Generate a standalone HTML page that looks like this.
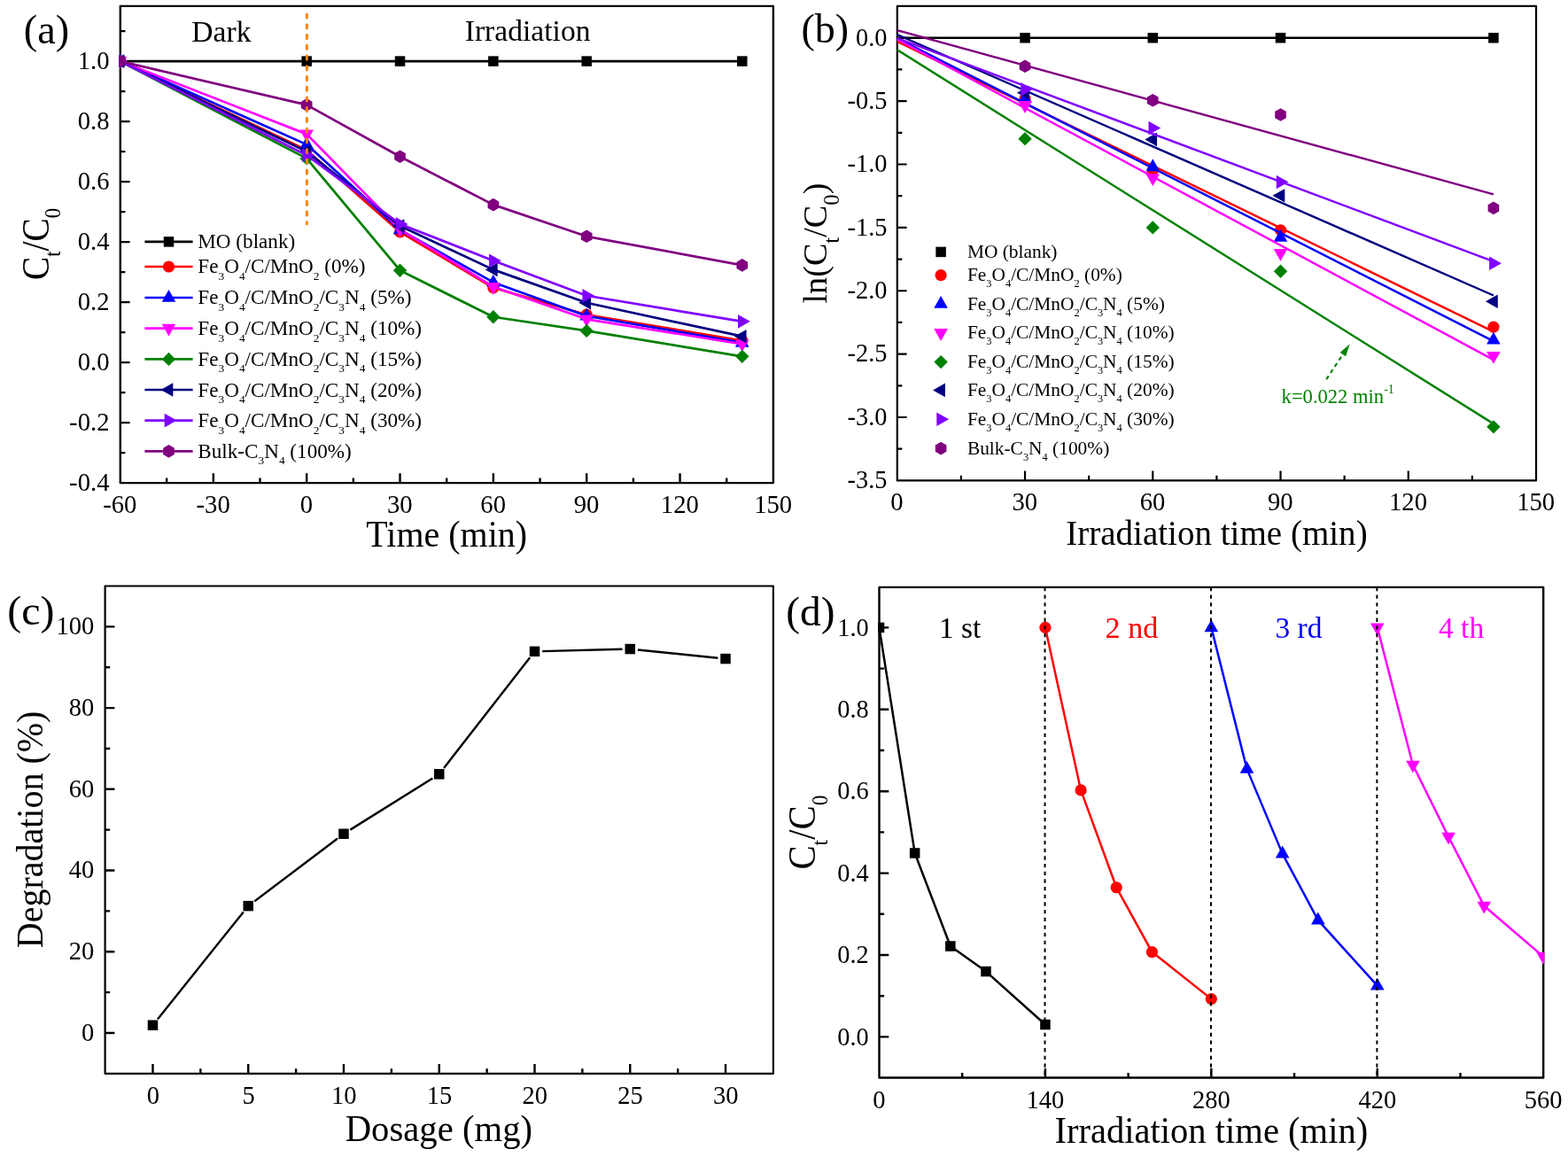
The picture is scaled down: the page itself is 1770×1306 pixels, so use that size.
<!DOCTYPE html>
<html lang="en"><head><meta charset="utf-8"><title>Photocatalytic degradation figure</title>
<style>html,body{margin:0;padding:0;background:#fff}body{width:1770px;height:1306px;overflow:hidden}svg{display:block}text{font-family:"Liberation Serif","Times New Roman",serif;fill:#000}</style>
</head><body>
<svg width="1770" height="1306" viewBox="0 0 1770 1306" role="img" aria-label="Photocatalytic degradation of MO: kinetics, dosage and recycling">
<rect width="1770" height="1306" fill="#fff"/>
<defs>
<clipPath id="clipa"><rect x="134.5" y="5.6" width="739.7" height="540.8"/></clipPath>
<clipPath id="clipb"><rect x="1011.5" y="5.6" width="723.8" height="538.1"/></clipPath>
<clipPath id="clipc"><rect x="117.3" y="660.2" width="756.9" height="552.9"/></clipPath>
<clipPath id="clipd"><rect x="991.2" y="661.6" width="752.3" height="556.2"/></clipPath>
</defs>
<g id="panel-a">
<g font-size="23.15">
<path d="M163.4 272.9H217.6" stroke="#000000" stroke-width="2.7" fill="none"/>
<rect x="184.75" y="267.15" width="11.5" height="11.5" fill="#000000"/>
<text x="223.3" y="280.2">MO (blank)</text>
<path d="M163.4 301H217.6" stroke="#ff0000" stroke-width="2.7" fill="none"/>
<circle cx="190.5" cy="301" r="6.6" fill="#ff0000"/>
<text x="223.3" y="308.2">Fe<tspan font-size="13.4" dy="7.5">3</tspan><tspan dy="-7.5">O</tspan><tspan font-size="13.4" dy="7.5">4</tspan><tspan dy="-7.5">/C/MnO</tspan><tspan font-size="13.4" dy="7.5">2</tspan><tspan dy="-7.5"> (0%)</tspan></text>
<path d="M163.4 336H217.6" stroke="#0000ff" stroke-width="2.7" fill="none"/>
<polygon points="190.5,327 198.3,340.8 182.7,340.8" fill="#0000ff"/>
<text x="223.3" y="343.4">Fe<tspan font-size="13.4" dy="7.5">3</tspan><tspan dy="-7.5">O</tspan><tspan font-size="13.4" dy="7.5">4</tspan><tspan dy="-7.5">/C/MnO</tspan><tspan font-size="13.4" dy="7.5">2</tspan><tspan dy="-7.5">/C</tspan><tspan font-size="13.4" dy="7.5">3</tspan><tspan dy="-7.5">N</tspan><tspan font-size="13.4" dy="7.5">4</tspan><tspan dy="-7.5"> (5%)</tspan></text>
<path d="M163.4 370.6H217.6" stroke="#ff00ff" stroke-width="2.7" fill="none"/>
<polygon points="190.5,379.6 198.3,365.8 182.7,365.8" fill="#ff00ff"/>
<text x="223.3" y="378.1">Fe<tspan font-size="13.4" dy="7.5">3</tspan><tspan dy="-7.5">O</tspan><tspan font-size="13.4" dy="7.5">4</tspan><tspan dy="-7.5">/C/MnO</tspan><tspan font-size="13.4" dy="7.5">2</tspan><tspan dy="-7.5">/C</tspan><tspan font-size="13.4" dy="7.5">3</tspan><tspan dy="-7.5">N</tspan><tspan font-size="13.4" dy="7.5">4</tspan><tspan dy="-7.5"> (10%)</tspan></text>
<path d="M163.4 405.4H217.6" stroke="#008000" stroke-width="2.7" fill="none"/>
<polygon points="190.5,397.7 198.2,405.4 190.5,413.1 182.8,405.4" fill="#008000"/>
<text x="223.3" y="412.9">Fe<tspan font-size="13.4" dy="7.5">3</tspan><tspan dy="-7.5">O</tspan><tspan font-size="13.4" dy="7.5">4</tspan><tspan dy="-7.5">/C/MnO</tspan><tspan font-size="13.4" dy="7.5">2</tspan><tspan dy="-7.5">/C</tspan><tspan font-size="13.4" dy="7.5">3</tspan><tspan dy="-7.5">N</tspan><tspan font-size="13.4" dy="7.5">4</tspan><tspan dy="-7.5"> (15%)</tspan></text>
<path d="M163.4 440H217.6" stroke="#000080" stroke-width="2.7" fill="none"/>
<polygon points="181.5,440 195.3,432.2 195.3,447.8" fill="#000080"/>
<text x="223.3" y="447.5">Fe<tspan font-size="13.4" dy="7.5">3</tspan><tspan dy="-7.5">O</tspan><tspan font-size="13.4" dy="7.5">4</tspan><tspan dy="-7.5">/C/MnO</tspan><tspan font-size="13.4" dy="7.5">2</tspan><tspan dy="-7.5">/C</tspan><tspan font-size="13.4" dy="7.5">3</tspan><tspan dy="-7.5">N</tspan><tspan font-size="13.4" dy="7.5">4</tspan><tspan dy="-7.5"> (20%)</tspan></text>
<path d="M163.4 474.6H217.6" stroke="#8000ff" stroke-width="2.7" fill="none"/>
<polygon points="199.5,474.6 185.7,466.8 185.7,482.4" fill="#8000ff"/>
<text x="223.3" y="482.1">Fe<tspan font-size="13.4" dy="7.5">3</tspan><tspan dy="-7.5">O</tspan><tspan font-size="13.4" dy="7.5">4</tspan><tspan dy="-7.5">/C/MnO</tspan><tspan font-size="13.4" dy="7.5">2</tspan><tspan dy="-7.5">/C</tspan><tspan font-size="13.4" dy="7.5">3</tspan><tspan dy="-7.5">N</tspan><tspan font-size="13.4" dy="7.5">4</tspan><tspan dy="-7.5"> (30%)</tspan></text>
<path d="M163.4 509.4H217.6" stroke="#800080" stroke-width="2.7" fill="none"/>
<polygon points="190.5,502.1 196.82,505.75 196.82,513.05 190.5,516.7 184.18,513.05 184.18,505.75" fill="#800080"/>
<text x="223.3" y="516.9">Bulk-C<tspan font-size="13.4" dy="7.5">3</tspan><tspan dy="-7.5">N</tspan><tspan font-size="13.4" dy="7.5">4</tspan><tspan dy="-7.5"> (100%)</tspan></text>
</g>
<rect x="135.8" y="6.9" width="737.1" height="538.2" fill="none" stroke="#000" stroke-width="2.4" stroke-linejoin="round"/>
<path d="M240.84 545.1V534.3M346.19 545.1V534.3M451.53 545.1V534.3M556.87 545.1V534.3M662.21 545.1V534.3M767.56 545.1V534.3M188.17 545.1V539.5M293.51 545.1V539.5M398.86 545.1V539.5M504.2 545.1V539.5M609.54 545.1V539.5M714.89 545.1V539.5M820.23 545.1V539.5M135.8 477.1H146.6M135.8 409.1H146.6M135.8 341.1H146.6M135.8 273.1H146.6M135.8 205.1H146.6M135.8 137.1H146.6M135.8 69.1H146.6M135.8 511.1H141.4M135.8 443.1H141.4M135.8 375.1H141.4M135.8 307.1H141.4M135.8 239.1H141.4M135.8 171.1H141.4M135.8 103.1H141.4M135.8 35.1H141.4" fill="none" stroke="#000" stroke-width="2.4"/>
<g clip-path="url(#clipa)">
<polyline points="135.5,69.1 346.19,69.1 451.53,69.1 556.87,69.1 662.21,69.1 837.79,69.1" fill="none" stroke="#000000" stroke-width="2.7" stroke-linejoin="round"/>
<rect x="129.75" y="63.35" width="11.5" height="11.5" fill="#000000"/>
<rect x="340.44" y="63.35" width="11.5" height="11.5" fill="#000000"/>
<rect x="445.78" y="63.35" width="11.5" height="11.5" fill="#000000"/>
<rect x="551.12" y="63.35" width="11.5" height="11.5" fill="#000000"/>
<rect x="656.46" y="63.35" width="11.5" height="11.5" fill="#000000"/>
<rect x="832.04" y="63.35" width="11.5" height="11.5" fill="#000000"/>
<polyline points="135.5,69.1 346.19,169.4 451.53,261.88 556.87,324.78 662.21,355.21 837.79,384.48" fill="none" stroke="#ff0000" stroke-width="2.7" stroke-linejoin="round"/>
<circle cx="135.5" cy="69.1" r="6.6" fill="#ff0000"/>
<circle cx="346.19" cy="169.4" r="6.6" fill="#ff0000"/>
<circle cx="451.53" cy="261.88" r="6.6" fill="#ff0000"/>
<circle cx="556.87" cy="324.78" r="6.6" fill="#ff0000"/>
<circle cx="662.21" cy="355.21" r="6.6" fill="#ff0000"/>
<circle cx="837.79" cy="384.48" r="6.6" fill="#ff0000"/>
<polyline points="135.5,69.1 346.19,163.11 451.53,259.5 556.87,318.66 662.21,356.74 837.79,386.86" fill="none" stroke="#0000ff" stroke-width="2.7" stroke-linejoin="round"/>
<polygon points="135.5,60.1 143.3,73.9 127.7,73.9" fill="#0000ff"/>
<polygon points="346.19,154.11 353.99,167.91 338.39,167.91" fill="#0000ff"/>
<polygon points="451.53,250.5 459.33,264.3 443.73,264.3" fill="#0000ff"/>
<polygon points="556.87,309.66 564.67,323.46 549.07,323.46" fill="#0000ff"/>
<polygon points="662.21,347.74 670.01,361.54 654.41,361.54" fill="#0000ff"/>
<polygon points="837.79,377.86 845.59,391.66 829.99,391.66" fill="#0000ff"/>
<polyline points="135.5,69.1 346.19,151.38 451.53,258.82 556.87,323.76 662.21,360.31 837.79,388.36" fill="none" stroke="#ff00ff" stroke-width="2.7" stroke-linejoin="round"/>
<polygon points="135.5,78.1 143.3,64.3 127.7,64.3" fill="#ff00ff"/>
<polygon points="346.19,160.38 353.99,146.58 338.39,146.58" fill="#ff00ff"/>
<polygon points="451.53,267.82 459.33,254.02 443.73,254.02" fill="#ff00ff"/>
<polygon points="556.87,332.76 564.67,318.96 549.07,318.96" fill="#ff00ff"/>
<polygon points="662.21,369.31 670.01,355.51 654.41,355.51" fill="#ff00ff"/>
<polygon points="837.79,397.36 845.59,383.56 829.99,383.56" fill="#ff00ff"/>
<polyline points="135.5,69.1 346.19,178.92 451.53,305.2 556.87,357.76 662.21,373.4 837.79,402.37" fill="none" stroke="#008000" stroke-width="2.7" stroke-linejoin="round"/>
<polygon points="135.5,61.4 143.2,69.1 135.5,76.8 127.8,69.1" fill="#008000"/>
<polygon points="346.19,171.22 353.89,178.92 346.19,186.62 338.49,178.92" fill="#008000"/>
<polygon points="451.53,297.5 459.23,305.2 451.53,312.9 443.83,305.2" fill="#008000"/>
<polygon points="556.87,350.06 564.57,357.76 556.87,365.46 549.17,357.76" fill="#008000"/>
<polygon points="662.21,365.7 669.91,373.4 662.21,381.1 654.51,373.4" fill="#008000"/>
<polygon points="837.79,394.67 845.49,402.37 837.79,410.07 830.09,402.37" fill="#008000"/>
<polyline points="135.5,69.1 346.19,171.1 451.53,255.08 556.87,304.38 662.21,341.78 837.79,379.69" fill="none" stroke="#000080" stroke-width="2.7" stroke-linejoin="round"/>
<polygon points="126.5,69.1 140.3,61.3 140.3,76.9" fill="#000080"/>
<polygon points="337.19,171.1 350.99,163.3 350.99,178.9" fill="#000080"/>
<polygon points="442.53,255.08 456.33,247.28 456.33,262.88" fill="#000080"/>
<polygon points="547.87,304.38 561.67,296.58 561.67,312.18" fill="#000080"/>
<polygon points="653.21,341.78 667.01,333.98 667.01,349.58" fill="#000080"/>
<polygon points="828.79,379.69 842.59,371.89 842.59,387.49" fill="#000080"/>
<polyline points="135.5,69.1 346.19,175.18 451.53,252.9 556.87,294.18 662.21,333.79 837.79,362.86" fill="none" stroke="#8000ff" stroke-width="2.7" stroke-linejoin="round"/>
<polygon points="144.5,69.1 130.7,61.3 130.7,76.9" fill="#8000ff"/>
<polygon points="355.19,175.18 341.39,167.38 341.39,182.98" fill="#8000ff"/>
<polygon points="460.53,252.9 446.73,245.1 446.73,260.7" fill="#8000ff"/>
<polygon points="565.87,294.18 552.07,286.38 552.07,301.98" fill="#8000ff"/>
<polygon points="671.21,333.79 657.41,325.99 657.41,341.59" fill="#8000ff"/>
<polygon points="846.79,362.86 832.99,355.06 832.99,370.66" fill="#8000ff"/>
<polyline points="135.5,69.1 346.19,118.4 451.53,176.71 556.87,231.11 662.21,266.81 837.79,299.42" fill="none" stroke="#800080" stroke-width="2.7" stroke-linejoin="round"/>
<polygon points="135.5,61.8 141.82,65.45 141.82,72.75 135.5,76.4 129.18,72.75 129.18,65.45" fill="#800080"/>
<polygon points="346.19,111.1 352.51,114.75 352.51,122.05 346.19,125.7 339.86,122.05 339.86,114.75" fill="#800080"/>
<polygon points="451.53,169.41 457.85,173.06 457.85,180.36 451.53,184.01 445.21,180.36 445.21,173.06" fill="#800080"/>
<polygon points="556.87,223.81 563.19,227.46 563.19,234.76 556.87,238.41 550.55,234.76 550.55,227.46" fill="#800080"/>
<polygon points="662.21,259.51 668.54,263.16 668.54,270.46 662.21,274.11 655.89,270.46 655.89,263.16" fill="#800080"/>
<polygon points="837.79,292.12 844.11,295.77 844.11,303.07 837.79,306.72 831.46,303.07 831.46,295.77" fill="#800080"/>
</g>
<path d="M346.39 16.1V253" stroke="#ff8000" stroke-width="2.9" stroke-dasharray="4.2 7.53" stroke-linecap="round" fill="none"/>
<text transform="translate(135.3 578.9) scale(0.95 1)" font-size="30.2" text-anchor="middle">-60</text>
<text transform="translate(240.64 578.9) scale(0.95 1)" font-size="30.2" text-anchor="middle">-30</text>
<text transform="translate(345.99 578.9) scale(0.95 1)" font-size="30.2" text-anchor="middle">0</text>
<text transform="translate(451.33 578.9) scale(0.95 1)" font-size="30.2" text-anchor="middle">30</text>
<text transform="translate(556.67 578.9) scale(0.95 1)" font-size="30.2" text-anchor="middle">60</text>
<text transform="translate(662.01 578.9) scale(0.95 1)" font-size="30.2" text-anchor="middle">90</text>
<text transform="translate(767.36 578.9) scale(0.95 1)" font-size="30.2" text-anchor="middle">120</text>
<text transform="translate(872.7 578.9) scale(0.95 1)" font-size="30.2" text-anchor="middle">150</text>
<text transform="translate(123.5 553.8) scale(0.95 1)" font-size="30.2" text-anchor="end">-0.4</text>
<text transform="translate(123.5 485.8) scale(0.95 1)" font-size="30.2" text-anchor="end">-0.2</text>
<text transform="translate(123.5 417.8) scale(0.95 1)" font-size="30.2" text-anchor="end">0.0</text>
<text transform="translate(123.5 349.8) scale(0.95 1)" font-size="30.2" text-anchor="end">0.2</text>
<text transform="translate(123.5 281.8) scale(0.95 1)" font-size="30.2" text-anchor="end">0.4</text>
<text transform="translate(123.5 213.8) scale(0.95 1)" font-size="30.2" text-anchor="end">0.6</text>
<text transform="translate(123.5 145.8) scale(0.95 1)" font-size="30.2" text-anchor="end">0.8</text>
<text transform="translate(123.5 77.8) scale(0.95 1)" font-size="30.2" text-anchor="end">1.0</text>
<text transform="translate(26.8 48.5) scale(1.02 1)" font-size="45.4">(a)</text>
<text transform="translate(216.3 47) scale(0.974 1)" font-size="34.5">Dark</text>
<text transform="translate(524.7 46.1) scale(0.974 1)" font-size="34.5">Irradiation</text>
<text transform="translate(504.2 617.2) scale(0.968 1)" font-size="41.3" text-anchor="middle">Time (min)</text>
<text transform="translate(54.6 275.5) rotate(-90) scale(0.885 1)" font-size="44.5" text-anchor="middle">C<tspan font-size="25.5" dy="13.7">t</tspan><tspan dy="-13.7">/C</tspan><tspan font-size="25.5" dy="13.7">0</tspan></text>
</g>
<g id="panel-b">
<g font-size="21.4">
<rect x="1056.35" y="278.65" width="11.5" height="11.5" fill="#000000"/>
<text x="1091.9" y="291.2">MO (blank)</text>
<circle cx="1062.1" cy="310.7" r="6.6" fill="#ff0000"/>
<text x="1091.9" y="317.3">Fe<tspan font-size="12.4" dy="7">3</tspan><tspan dy="-7">O</tspan><tspan font-size="12.4" dy="7">4</tspan><tspan dy="-7">/C/MnO</tspan><tspan font-size="12.4" dy="7">2</tspan><tspan dy="-7"> (0%)</tspan></text>
<polygon points="1062.1,334 1069.9,347.8 1054.3,347.8" fill="#0000ff"/>
<text x="1091.9" y="349.7">Fe<tspan font-size="12.4" dy="7">3</tspan><tspan dy="-7">O</tspan><tspan font-size="12.4" dy="7">4</tspan><tspan dy="-7">/C/MnO</tspan><tspan font-size="12.4" dy="7">2</tspan><tspan dy="-7">/C</tspan><tspan font-size="12.4" dy="7">3</tspan><tspan dy="-7">N</tspan><tspan font-size="12.4" dy="7">4</tspan><tspan dy="-7"> (5%)</tspan></text>
<polygon points="1062.1,384.9 1069.9,371.1 1054.3,371.1" fill="#ff00ff"/>
<text x="1091.9" y="382.1">Fe<tspan font-size="12.4" dy="7">3</tspan><tspan dy="-7">O</tspan><tspan font-size="12.4" dy="7">4</tspan><tspan dy="-7">/C/MnO</tspan><tspan font-size="12.4" dy="7">2</tspan><tspan dy="-7">/C</tspan><tspan font-size="12.4" dy="7">3</tspan><tspan dy="-7">N</tspan><tspan font-size="12.4" dy="7">4</tspan><tspan dy="-7"> (10%)</tspan></text>
<polygon points="1062.1,400.9 1069.8,408.6 1062.1,416.3 1054.4,408.6" fill="#008000"/>
<text x="1091.9" y="415">Fe<tspan font-size="12.4" dy="7">3</tspan><tspan dy="-7">O</tspan><tspan font-size="12.4" dy="7">4</tspan><tspan dy="-7">/C/MnO</tspan><tspan font-size="12.4" dy="7">2</tspan><tspan dy="-7">/C</tspan><tspan font-size="12.4" dy="7">3</tspan><tspan dy="-7">N</tspan><tspan font-size="12.4" dy="7">4</tspan><tspan dy="-7"> (15%)</tspan></text>
<polygon points="1053.1,440.4 1066.9,432.6 1066.9,448.2" fill="#000080"/>
<text x="1091.9" y="447.2">Fe<tspan font-size="12.4" dy="7">3</tspan><tspan dy="-7">O</tspan><tspan font-size="12.4" dy="7">4</tspan><tspan dy="-7">/C/MnO</tspan><tspan font-size="12.4" dy="7">2</tspan><tspan dy="-7">/C</tspan><tspan font-size="12.4" dy="7">3</tspan><tspan dy="-7">N</tspan><tspan font-size="12.4" dy="7">4</tspan><tspan dy="-7"> (20%)</tspan></text>
<polygon points="1071.1,473.2 1057.3,465.4 1057.3,481" fill="#8000ff"/>
<text x="1091.9" y="480">Fe<tspan font-size="12.4" dy="7">3</tspan><tspan dy="-7">O</tspan><tspan font-size="12.4" dy="7">4</tspan><tspan dy="-7">/C/MnO</tspan><tspan font-size="12.4" dy="7">2</tspan><tspan dy="-7">/C</tspan><tspan font-size="12.4" dy="7">3</tspan><tspan dy="-7">N</tspan><tspan font-size="12.4" dy="7">4</tspan><tspan dy="-7"> (30%)</tspan></text>
<polygon points="1062.1,498.8 1068.42,502.45 1068.42,509.75 1062.1,513.4 1055.78,509.75 1055.78,502.45" fill="#800080"/>
<text x="1091.9" y="512.9">Bulk-C<tspan font-size="12.4" dy="7">3</tspan><tspan dy="-7">N</tspan><tspan font-size="12.4" dy="7">4</tspan><tspan dy="-7"> (100%)</tspan></text>
</g>
<rect x="1012.8" y="6.9" width="721.2" height="535.5" fill="none" stroke="#000" stroke-width="2.2" stroke-linejoin="round"/>
<path d="M1157.04 542.4V531.6M1301.28 542.4V531.6M1445.52 542.4V531.6M1589.76 542.4V531.6M1084.92 542.4V536.8M1229.16 542.4V536.8M1373.4 542.4V536.8M1517.64 542.4V536.8M1661.88 542.4V536.8M1012.8 471.02H1023.6M1012.8 399.64H1023.6M1012.8 328.26H1023.6M1012.8 256.89H1023.6M1012.8 185.51H1023.6M1012.8 114.13H1023.6M1012.8 42.75H1023.6M1012.8 506.71H1018.4M1012.8 435.33H1018.4M1012.8 363.95H1018.4M1012.8 292.57H1018.4M1012.8 221.2H1018.4M1012.8 149.82H1018.4M1012.8 78.44H1018.4" fill="none" stroke="#000" stroke-width="2.2"/>
<g clip-path="url(#clipb)">
<path d="M1012.8 42.7L1685.92 42.7" stroke="#000000" stroke-width="2.45" fill="none"/>
<rect x="1151.29" y="37" width="11.5" height="11.5" fill="#000000"/>
<rect x="1295.53" y="37" width="11.5" height="11.5" fill="#000000"/>
<rect x="1439.77" y="37" width="11.5" height="11.5" fill="#000000"/>
<rect x="1680.17" y="37" width="11.5" height="11.5" fill="#000000"/>
<path d="M1012.8 46.8L1685.92 374.3" stroke="#ff0000" stroke-width="2.45" fill="none"/>
<circle cx="1157.04" cy="111.42" r="6.6" fill="#ff0000"/>
<circle cx="1301.28" cy="192.36" r="6.6" fill="#ff0000"/>
<circle cx="1445.52" cy="259.74" r="6.6" fill="#ff0000"/>
<circle cx="1685.92" cy="369.09" r="6.6" fill="#ff0000"/>
<path d="M1012.8 43.2L1685.92 385.1" stroke="#0000ff" stroke-width="2.45" fill="none"/>
<polygon points="1157.04,101.99 1164.84,115.79 1149.24,115.79" fill="#0000ff"/>
<polygon points="1301.28,179.36 1309.08,193.16 1293.48,193.16" fill="#0000ff"/>
<polygon points="1445.52,258.88 1453.32,272.68 1437.72,272.68" fill="#0000ff"/>
<polygon points="1685.92,374.65 1693.72,388.45 1678.12,388.45" fill="#0000ff"/>
<path d="M1012.8 44.3L1685.92 406.1" stroke="#ff00ff" stroke-width="2.45" fill="none"/>
<polygon points="1157.04,127.91 1164.84,114.11 1149.24,114.11" fill="#ff00ff"/>
<polygon points="1301.28,210.02 1309.08,196.22 1293.48,196.22" fill="#ff00ff"/>
<polygon points="1445.52,294.72 1453.32,280.92 1437.72,280.92" fill="#ff00ff"/>
<polygon points="1685.92,410.74 1693.72,396.94 1678.12,396.94" fill="#ff00ff"/>
<path d="M1012.8 56.3L1685.92 478.4" stroke="#008000" stroke-width="2.45" fill="none"/>
<polygon points="1157.04,148.97 1164.74,156.67 1157.04,164.37 1149.34,156.67" fill="#008000"/>
<polygon points="1301.28,249.19 1308.98,256.89 1301.28,264.59 1293.58,256.89" fill="#008000"/>
<polygon points="1445.52,298.58 1453.22,306.28 1445.52,313.98 1437.82,306.28" fill="#008000"/>
<polygon points="1685.92,474.13 1693.62,481.83 1685.92,489.53 1678.22,481.83" fill="#008000"/>
<path d="M1012.8 39.1L1685.92 333.5" stroke="#000080" stroke-width="2.45" fill="none"/>
<polygon points="1148.04,104.65 1161.84,96.85 1161.84,112.45" fill="#000080"/>
<polygon points="1292.28,157.38 1306.08,149.58 1306.08,165.18" fill="#000080"/>
<polygon points="1436.52,220.77 1450.32,212.97 1450.32,228.57" fill="#000080"/>
<polygon points="1676.92,340.26 1690.72,332.46 1690.72,348.06" fill="#000080"/>
<path d="M1012.8 43L1685.92 295.1" stroke="#8000ff" stroke-width="2.45" fill="none"/>
<polygon points="1166.04,100.85 1152.24,93.05 1152.24,108.65" fill="#8000ff"/>
<polygon points="1310.28,144.46 1296.48,136.66 1296.48,152.26" fill="#8000ff"/>
<polygon points="1454.52,205.56 1440.72,197.76 1440.72,213.36" fill="#8000ff"/>
<polygon points="1694.92,297.21 1681.12,289.41 1681.12,305.01" fill="#8000ff"/>
<path d="M1012.8 34.2L1685.92 219.4" stroke="#800080" stroke-width="2.45" fill="none"/>
<polygon points="1157.04,67.5 1163.36,71.15 1163.36,78.45 1157.04,82.1 1150.72,78.45 1150.72,71.15" fill="#800080"/>
<polygon points="1301.28,105.94 1307.6,109.59 1307.6,116.89 1301.28,120.54 1294.96,116.89 1294.96,109.59" fill="#800080"/>
<polygon points="1445.52,122.2 1451.84,125.85 1451.84,133.15 1445.52,136.8 1439.2,133.15 1439.2,125.85" fill="#800080"/>
<polygon points="1685.92,227.6 1692.24,231.25 1692.24,238.55 1685.92,242.2 1679.6,238.55 1679.6,231.25" fill="#800080"/>
</g>
<path d="M1497.2 428.2L1516.5 399.1" stroke="#008000" stroke-width="2.1" stroke-dasharray="4.6 4" fill="none"/>
<polygon points="1523.7,388.3 1519.1,402.2 1512.7,397.9" fill="#008000"/>
<text transform="translate(1446.6 455.1) scale(0.995 1)" font-size="22.7" style="fill:#008000">k=0.022 min<tspan font-size="14" dy="-11.6">-1</tspan></text>
<text transform="translate(1012.5 576.1) scale(0.95 1)" font-size="30.2" text-anchor="middle">0</text>
<text transform="translate(1156.74 576.1) scale(0.95 1)" font-size="30.2" text-anchor="middle">30</text>
<text transform="translate(1300.98 576.1) scale(0.95 1)" font-size="30.2" text-anchor="middle">60</text>
<text transform="translate(1445.22 576.1) scale(0.95 1)" font-size="30.2" text-anchor="middle">90</text>
<text transform="translate(1589.46 576.1) scale(0.95 1)" font-size="30.2" text-anchor="middle">120</text>
<text transform="translate(1733.7 576.1) scale(0.95 1)" font-size="30.2" text-anchor="middle">150</text>
<text transform="translate(1001.5 551.2) scale(0.94 1)" font-size="30.2" text-anchor="end">-3.5</text>
<text transform="translate(1001.5 479.82) scale(0.94 1)" font-size="30.2" text-anchor="end">-3.0</text>
<text transform="translate(1001.5 408.44) scale(0.94 1)" font-size="30.2" text-anchor="end">-2.5</text>
<text transform="translate(1001.5 337.06) scale(0.94 1)" font-size="30.2" text-anchor="end">-2.0</text>
<text transform="translate(1001.5 265.69) scale(0.94 1)" font-size="30.2" text-anchor="end">-1.5</text>
<text transform="translate(1001.5 194.31) scale(0.94 1)" font-size="30.2" text-anchor="end">-1.0</text>
<text transform="translate(1001.5 122.93) scale(0.94 1)" font-size="30.2" text-anchor="end">-0.5</text>
<text transform="translate(1001.5 51.55) scale(0.94 1)" font-size="30.2" text-anchor="end">0.0</text>
<text transform="translate(904.4 47.8)" font-size="46">(b)</text>
<text transform="translate(1373.4 614.7) scale(0.967 1)" font-size="40.4" text-anchor="middle">Irradiation time (min)</text>
<text transform="translate(933.3 274.6) rotate(-90) scale(0.985 1)" font-size="38.8" text-anchor="middle">ln(C<tspan font-size="25" dy="13.4">t</tspan><tspan dy="-13.4">/C</tspan><tspan font-size="25" dy="13.4">0</tspan><tspan dy="-13.4">)</tspan></text>
</g>
<g id="panel-c">
<path d="M177.92 1150.44L274.8 1029.43M287.18 1017.39L381.05 946.48M395.37 936.62L488.37 878.44M501.09 866.96L598.16 742.2M612.2 735.11L702.57 732.8M719.92 733.46L810.37 742.7" fill="none" stroke="#000" stroke-width="2.4"/>
<rect x="166.73" y="1151.48" width="11.5" height="11.5" fill="#000"/>
<rect x="274.49" y="1016.88" width="11.5" height="11.5" fill="#000"/>
<rect x="382.24" y="935.49" width="11.5" height="11.5" fill="#000"/>
<rect x="490" y="868.07" width="11.5" height="11.5" fill="#000"/>
<rect x="597.76" y="729.58" width="11.5" height="11.5" fill="#000"/>
<rect x="705.51" y="726.83" width="11.5" height="11.5" fill="#000"/>
<rect x="813.27" y="737.84" width="11.5" height="11.5" fill="#000"/>
<rect x="118.6" y="661.5" width="754.3" height="550.3" fill="none" stroke="#000" stroke-width="2.2" stroke-linejoin="round"/>
<path d="M172.48 1211.8V1201M280.24 1211.8V1201M387.99 1211.8V1201M495.75 1211.8V1201M603.51 1211.8V1201M711.26 1211.8V1201M819.02 1211.8V1201M226.36 1211.8V1206.2M334.11 1211.8V1206.2M441.87 1211.8V1206.2M549.63 1211.8V1206.2M657.39 1211.8V1206.2M765.14 1211.8V1206.2M118.6 1165.94H129.4M118.6 1074.22H129.4M118.6 982.51H129.4M118.6 890.79H129.4M118.6 799.08H129.4M118.6 707.36H129.4M118.6 1120.08H124.2M118.6 1028.37H124.2M118.6 936.65H124.2M118.6 844.93H124.2M118.6 753.22H124.2" fill="none" stroke="#000" stroke-width="2.4"/>
<text transform="translate(172.78 1246.2) scale(0.945 1)" font-size="30.2" text-anchor="middle">0</text>
<text transform="translate(280.54 1246.2) scale(0.945 1)" font-size="30.2" text-anchor="middle">5</text>
<text transform="translate(388.29 1246.2) scale(0.945 1)" font-size="30.2" text-anchor="middle">10</text>
<text transform="translate(496.05 1246.2) scale(0.945 1)" font-size="30.2" text-anchor="middle">15</text>
<text transform="translate(603.81 1246.2) scale(0.945 1)" font-size="30.2" text-anchor="middle">20</text>
<text transform="translate(711.56 1246.2) scale(0.945 1)" font-size="30.2" text-anchor="middle">25</text>
<text transform="translate(819.32 1246.2) scale(0.945 1)" font-size="30.2" text-anchor="middle">30</text>
<text transform="translate(106.3 1174.84) scale(0.945 1)" font-size="30.2" text-anchor="end">0</text>
<text transform="translate(106.3 1083.12) scale(0.945 1)" font-size="30.2" text-anchor="end">20</text>
<text transform="translate(106.3 991.41) scale(0.945 1)" font-size="30.2" text-anchor="end">40</text>
<text transform="translate(106.3 899.69) scale(0.945 1)" font-size="30.2" text-anchor="end">60</text>
<text transform="translate(106.3 807.98) scale(0.945 1)" font-size="30.2" text-anchor="end">80</text>
<text transform="translate(106.3 716.26) scale(0.945 1)" font-size="30.2" text-anchor="end">100</text>
<text transform="translate(8.2 705) scale(1.043 1)" font-size="46">(c)</text>
<text transform="translate(495.4 1287.6) scale(0.972 1)" font-size="41.9" text-anchor="middle">Dosage (mg)</text>
<text transform="translate(48.3 936.4) rotate(-90) scale(0.971 1)" font-size="41.2" text-anchor="middle">Degradation (%)</text>
</g>
<g id="panel-d">
<rect x="992.5" y="662.9" width="749.7" height="553.6" fill="none" stroke="#000" stroke-width="2.4" stroke-linejoin="round"/>
<path d="M1179.92 1216.5V1205.7M1367.35 1216.5V1205.7M1554.78 1216.5V1205.7M1086.21 1216.5V1210.9M1273.64 1216.5V1210.9M1461.06 1216.5V1210.9M1648.49 1216.5V1210.9M992.5 1170.4H1003.3M992.5 1078H1003.3M992.5 985.6H1003.3M992.5 893.2H1003.3M992.5 800.8H1003.3M992.5 708.4H1003.3M992.5 1124.2H998.1M992.5 1031.8H998.1M992.5 939.4H998.1M992.5 847H998.1M992.5 754.6H998.1" fill="none" stroke="#000" stroke-width="2.4"/>
<g clip-path="url(#clipd)">
<polyline points="992.5,708.4 1032.66,962.96 1072.83,1068.02 1112.99,1096.57 1179.92,1156.54" fill="none" stroke="#000000" stroke-width="2.5" stroke-linejoin="round"/>
<rect x="986.75" y="702.65" width="11.5" height="11.5" fill="#000000"/>
<rect x="1026.91" y="957.21" width="11.5" height="11.5" fill="#000000"/>
<rect x="1067.08" y="1062.27" width="11.5" height="11.5" fill="#000000"/>
<rect x="1107.24" y="1090.82" width="11.5" height="11.5" fill="#000000"/>
<rect x="1174.17" y="1150.79" width="11.5" height="11.5" fill="#000000"/>
<polyline points="1179.92,708.4 1220.09,891.91 1260.25,1001.77 1300.41,1074.58 1367.35,1127.62" fill="none" stroke="#ff0000" stroke-width="2.5" stroke-linejoin="round"/>
<circle cx="1179.92" cy="708.4" r="6.6" fill="#ff0000"/>
<circle cx="1220.09" cy="891.91" r="6.6" fill="#ff0000"/>
<circle cx="1260.25" cy="1001.77" r="6.6" fill="#ff0000"/>
<circle cx="1300.41" cy="1074.58" r="6.6" fill="#ff0000"/>
<circle cx="1367.35" cy="1127.62" r="6.6" fill="#ff0000"/>
<polyline points="1367.35,708.4 1407.51,867.88 1447.67,963.61 1487.84,1038.59 1554.78,1112.65" fill="none" stroke="#0000ff" stroke-width="2.5" stroke-linejoin="round"/>
<polygon points="1367.35,699.4 1375.15,713.2 1359.55,713.2" fill="#0000ff"/>
<polygon points="1407.51,858.88 1415.31,872.68 1399.71,872.68" fill="#0000ff"/>
<polygon points="1447.67,954.61 1455.47,968.41 1439.88,968.41" fill="#0000ff"/>
<polygon points="1487.84,1029.59 1495.64,1043.39 1480.04,1043.39" fill="#0000ff"/>
<polygon points="1554.78,1103.65 1562.58,1117.45 1546.98,1117.45" fill="#0000ff"/>
<polyline points="1554.78,708.4 1594.94,863.49 1635.1,944.48 1675.26,1022.56 1742.2,1079.85" fill="none" stroke="#ff00ff" stroke-width="2.5" stroke-linejoin="round"/>
<polygon points="1554.78,717.4 1562.58,703.6 1546.98,703.6" fill="#ff00ff"/>
<polygon points="1594.94,872.49 1602.74,858.69 1587.14,858.69" fill="#ff00ff"/>
<polygon points="1635.1,953.48 1642.9,939.68 1627.3,939.68" fill="#ff00ff"/>
<polygon points="1675.26,1031.56 1683.06,1017.76 1667.46,1017.76" fill="#ff00ff"/>
<polygon points="1742.2,1088.85 1750,1075.05 1734.4,1075.05" fill="#ff00ff"/>
</g>
<path d="M1179.52 662.9V1216.5M1366.95 662.9V1216.5M1554.38 662.9V1216.5" stroke="#000" stroke-width="2" stroke-dasharray="4.3 4.37" fill="none"/>
<text transform="translate(992.5 1250.6) scale(0.945 1)" font-size="30.2" text-anchor="middle">0</text>
<text transform="translate(1179.92 1250.6) scale(0.945 1)" font-size="30.2" text-anchor="middle">140</text>
<text transform="translate(1367.35 1250.6) scale(0.945 1)" font-size="30.2" text-anchor="middle">280</text>
<text transform="translate(1554.78 1250.6) scale(0.945 1)" font-size="30.2" text-anchor="middle">420</text>
<text transform="translate(1742.2 1250.6) scale(0.945 1)" font-size="30.2" text-anchor="middle">560</text>
<text transform="translate(980.8 1179.6) scale(0.94 1)" font-size="30.2" text-anchor="end">0.0</text>
<text transform="translate(980.8 1087.2) scale(0.94 1)" font-size="30.2" text-anchor="end">0.2</text>
<text transform="translate(980.8 994.8) scale(0.94 1)" font-size="30.2" text-anchor="end">0.4</text>
<text transform="translate(980.8 902.4) scale(0.94 1)" font-size="30.2" text-anchor="end">0.6</text>
<text transform="translate(980.8 810) scale(0.94 1)" font-size="30.2" text-anchor="end">0.8</text>
<text transform="translate(980.8 717.6) scale(0.94 1)" font-size="30.2" text-anchor="end">1.0</text>
<text transform="translate(887.2 705.7) scale(1.028 1)" font-size="46.1">(d)</text>
<text transform="translate(1059.9 720.3) scale(0.971 1)" font-size="34.5">1 st</text>
<text transform="translate(1247.6 720.3) scale(0.99 1)" font-size="34.5" style="fill:#ff0000">2 nd</text>
<text transform="translate(1439.5 720.2) scale(0.971 1)" font-size="34.5" style="fill:#0000ff">3 rd</text>
<text transform="translate(1624 720.2) scale(0.971 1)" font-size="34.5" style="fill:#ff00ff">4 th</text>
<text transform="translate(1367.3 1290.2) scale(0.971 1)" font-size="41.8" text-anchor="middle">Irradiation time (min)</text>
<text transform="translate(919.8 939.6) rotate(-90) scale(0.92 1)" font-size="44.3" text-anchor="middle">C<tspan font-size="25.5" dy="14.2">t</tspan><tspan dy="-14.2">/C</tspan><tspan font-size="25.5" dy="14.2">0</tspan></text>
</g>
</svg>
</body></html>
